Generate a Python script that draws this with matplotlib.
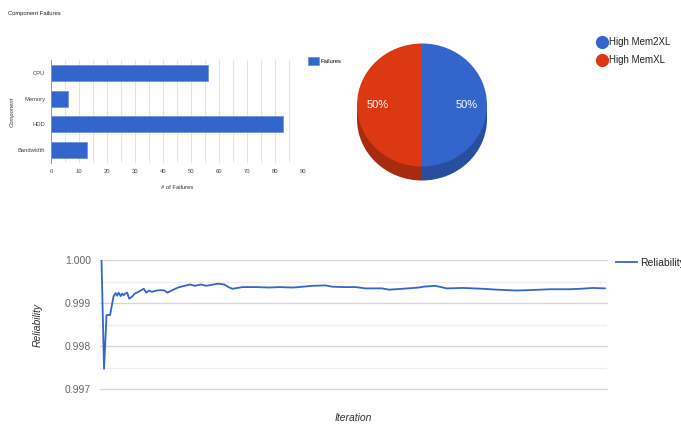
import numpy as np
import matplotlib
matplotlib.use("Agg")
from matplotlib import pyplot as plt
from matplotlib.lines import Line2D
from matplotlib.patches import Rectangle

plt.rcParams["font.family"] = ["Liberation Sans", "DejaVu Sans"]

# component failures (bar chart)
components = ["CPU", "Memory", "HDD", "Bandwidth"]
failures = [56, 6, 83, 13]

# instance type share (pie)
instance_types = ["High Mem2XL", "High MemXL"]
instance_share = [50, 50]

# reliability over iterations (line chart)
iterations = [0, 5, 10, 17, 24, 28, 31, 34, 38, 41, 44, 47, 51, 55, 61, 66, 72, 79, 84, 89,
              94, 100, 109, 119, 125, 131, 139, 152, 165, 176, 185, 198, 208, 218, 231, 244,
              252, 260, 280, 307, 333, 353, 379, 392, 419, 445, 458, 478, 505, 524, 557, 571,
              597, 630, 640, 663, 686, 719, 759, 785, 824, 851, 891, 930, 950, 976, 1000]
reliability = [1.0000, 0.99747, 0.99872, 0.99872, 0.99916, 0.99923, 0.99917, 0.99924, 0.99916,
               0.99922, 0.99918, 0.99922, 0.99924, 0.99910, 0.99915, 0.99922, 0.99925, 0.99930,
               0.99933, 0.99924, 0.99929, 0.99926, 0.99929, 0.99930, 0.99929, 0.99924, 0.99929,
               0.99936, 0.99940, 0.99943, 0.99940, 0.99943, 0.99940, 0.99942, 0.99945, 0.99943,
               0.99937, 0.99933, 0.99937, 0.99937, 0.99936, 0.99937, 0.99936, 0.99937, 0.99940,
               0.99941, 0.99938, 0.99937, 0.99937, 0.99934, 0.99934, 0.99931, 0.99933, 0.99936,
               0.99938, 0.99940, 0.99934, 0.99935, 0.99933, 0.99931, 0.99929, 0.99930, 0.99932,
               0.99932, 0.99933, 0.99935, 0.99934]

blue = "#3366cc"
red = "#dc3912"
W, H = 681, 424
small = 4.2


def px_axes(fig, x0, y0, x1, y1):
    # axes from pixel box (top-left origin)
    return fig.add_axes([x0 / W, 1 - y1 / H, (x1 - x0) / W, (y1 - y0) / H])


fig = plt.figure(figsize=(W / 100, H / 100), dpi=100)

# ---- bar chart ----
ax = px_axes(fig, 51, 60, 303, 163)
ypos = np.arange(len(components))
ax.barh(ypos, failures, height=0.63, color=blue, edgecolor="#6f93dd", linewidth=0.6, zorder=3)
ax.set_ylim(len(components) - 0.5, -0.5)
ax.set_xlim(0, 90)
ax.set_xticks(np.arange(0, 91, 10))
ax.set_xticks(np.arange(5, 90, 10), minor=True)
ax.set_yticks(ypos)
ax.set_yticklabels(components)
ax.tick_params(length=0, labelsize=small, colors="#444444", pad=4)
ax.tick_params(which="minor", length=0)
ax.grid(axis="x", which="both", color="#e4e4e4", linewidth=0.7, zorder=0)
for s in ["top", "right", "bottom"]:
    ax.spines[s].set_visible(False)
ax.spines["left"].set_color("#999999")
ax.spines["left"].set_linewidth(0.7)
ax.set_xlabel("# of Failures", fontsize=small, color="#333333", labelpad=8)
ax.set_ylabel("Component", fontsize=small, color="#333333", style="italic")
ax.yaxis.set_label_coords(-36 / 252, 0.5)
fig.text(8 / W, 1 - 14 / H, "Component Failures", fontsize=small, color="#222222", va="center")
ax.legend(["Failures"], loc="upper left", bbox_to_anchor=(308 / W, 1 - 57 / H),
          bbox_transform=fig.transFigure, frameon=False, fontsize=small, borderpad=0,
          borderaxespad=0, handlelength=1.8, handleheight=1.8, handletextpad=0.3)

# ---- pie chart (3d look) ----
axp = px_axes(fig, 350, 36, 494, 190)
a = 144 / 130
depth = 14 / 61.5
dark = ["#284f9e", "#a82b0e"]
axp.pie(instance_share, colors=dark, startangle=90, counterclock=False,
        center=(0, -depth), radius=1, frame=True)
axp.add_patch(Rectangle((-1, -depth), 1, depth, color=dark[1], lw=0))
axp.add_patch(Rectangle((0, -depth), 1, depth, color=dark[0], lw=0))
axp.pie(instance_share, colors=[blue, red], startangle=90, counterclock=False,
        radius=1, frame=True, autopct="%d%%", pctdistance=0.68,
        textprops=dict(color="white", fontsize=8))
axp.set_xlim(-a, a)
axp.set_ylim(-85 / 61.5, 69 / 61.5)
axp.set_aspect("auto")
axp.axis("off")

handles = [Line2D([], [], marker="o", ls="none", color=c, markersize=8.5) for c in [blue, red]]
fig.legend(handles, instance_types, loc="upper left", bbox_to_anchor=(596 / W, 1 - 37 / H),
           frameon=False, fontsize=7, handletextpad=0.15, labelspacing=0.85,
           handlelength=1.2, borderpad=0, borderaxespad=0, labelcolor="#222222")

# ---- line chart ----
axl = px_axes(fig, 100, 260, 607, 389)
axl.plot(iterations, reliability, color=blue, linewidth=1.3, label="Reliability", zorder=3)
axl.set_xlim(-3, 1004)
axl.set_ylim(0.997, 1.000)
axl.set_yticks([0.997, 0.998, 0.999, 1.000])
axl.set_yticklabels(["0.997", "0.998", "0.999", "1.000"])
axl.set_yticks([0.9975, 0.9985, 0.9995], minor=True)
axl.set_xticks([])
axl.tick_params(axis="y", which="both", length=0, labelsize=7.5, colors="#666666", pad=6.5)
axl.grid(axis="y", which="major", color="#d6d6d6", linewidth=0.9, zorder=0)
axl.grid(axis="y", which="minor", color="#eeeeee", linewidth=0.9, zorder=0)
for gl in axl.get_ygridlines() + axl.yaxis.get_minorticklines():
    gl.set_clip_on(False)
for s in axl.spines.values():
    s.set_visible(False)
axl.set_ylabel("Reliability", fontsize=7.5, style="italic", color="#333333", labelpad=16)
axl.set_xlabel("Iteration", fontsize=7.5, style="italic", color="#333333", labelpad=17)
axl.legend(loc="upper left", bbox_to_anchor=(616 / W, 1 - 258 / H), bbox_transform=fig.transFigure,
           frameon=False, fontsize=7.5, handlelength=2.0, handletextpad=0.3, borderpad=0,
           borderaxespad=0, labelcolor="#222222")

fig.savefig("out.png", dpi=100)
